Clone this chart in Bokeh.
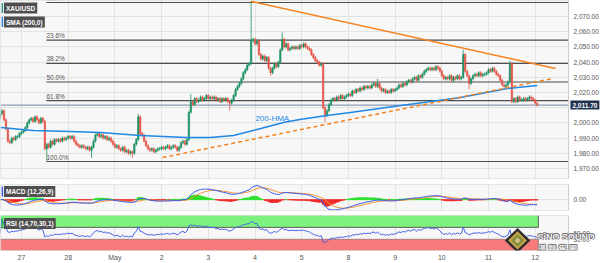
import numpy as np
import pandas as pd
from bokeh.plotting import figure
from bokeh.layouts import column
from bokeh.models import Range1d, FixedTicker, Label, ColumnDataSource
from bokeh.embed import file_html
from bokeh.resources import INLINE
from bokeh.core.properties import value

FONT = "Liberation Sans"

# ---------------- data (hourly XAU/USD, hour 0 = 27 Apr 00:00, trading hours only) -------------
start_hour = -11
first_open = 2003.0
closes = [
    2006, 2008, 2002, 1996, 1988, 1987, 1990, 1989, 1991, 1991, 1993,
    1994, 1995, 1997, 2000, 2002, 2003, 2001, 2004, 2002, 2000, 2003, 2001,
    1983, 1986, 1984, 1988, 1986, 1989, 1988, 1989, 1988, 1990, 1989, 1990,
    1991, 1990, 1991, 1988, 1986, 1985, 1984, 1985, 1984, 1983, 1984, 1982,
    1984, 1988, 1992, 1993, 1991, 1992, 1990, 1991, 1989, 1990, 1988, 1986,
    1984, 1985, 1983, 1982, 1984, 1981, 1982, 1980, 1981, 1980, 1986, 1989,
    2004, 1993, 1992, 1988, 1985, 1983, 1982, 1983, 1981, 1982, 1983, 1983,
    1984, 1983, 1984, 1985, 1983, 1984, 1985, 1984, 1982, 1984, 1987, 1988,
    1986, 1989, 2007, 2014, 2012, 2016, 2014, 2015, 2017, 2015, 2016, 2018,
    2016, 2017, 2016, 2017, 2015, 2016, 2014, 2016, 2015, 2016, 2014, 2013,
    2015, 2018, 2022, 2024, 2026, 2029, 2033, 2035, 2038, 2039, 2054, 2055,
    2052, 2054, 2045, 2042, 2044, 2041, 2043, 2036, 2033, 2036, 2039, 2037,
    2040, 2048, 2055, 2050, 2052, 2048, 2049, 2050, 2049, 2050, 2049, 2051,
    2050, 2052, 2050, 2049, 2048, 2045, 2043, 2041, 2040, 2038, 2039, 2010,
    2005, 2008, 2012, 2015, 2016, 2015, 2017, 2016, 2018, 2016, 2017, 2018,
    2019, 2018, 2021, 2020, 2022, 2021, 2023, 2022, 2024, 2023, 2024, 2023,
    2025, 2026, 2024, 2026, 2023, 2021, 2022, 2020, 2021, 2020, 2022, 2021,
    2022, 2023, 2025, 2024, 2026, 2025, 2027, 2028, 2027, 2029, 2030, 2028,
    2031, 2030, 2032, 2034, 2035, 2036, 2035, 2036, 2035, 2037, 2036, 2034,
    2031, 2029, 2030, 2029, 2031, 2028, 2030, 2029, 2031, 2029, 2030, 2045,
    2034, 2031, 2026, 2029, 2031, 2032, 2031, 2033, 2031, 2032, 2032, 2033,
    2035, 2034, 2036, 2034, 2032, 2031, 2028, 2025, 2024, 2025, 2027, 2039,
    2014, 2016, 2014, 2017, 2015, 2015, 2016, 2015, 2016, 2017, 2016, 2015,
    2013, 2011.7,
]
high_spike_hours = [-11, 60, 87, 118, 134, 183, 227, 251]
high_spike_values = [2010, 2006, 2019, 2079.5, 2059.5, 2029, 2048, 2041]
low_spike_hours = [13, 36, 57, 107, 128, 156, 230]
low_spike_values = [1975, 1977, 1977, 2008, 2031, 2000.5, 2022]

hma_hours = [-10.8, 6, 25, 40.6, 61, 85, 97, 109, 123, 134.6, 143, 157, 169, 195, 225.6, 249.7, 265]
hma_values = [1997.0, 1995.0, 1994.3, 1993.7, 1991.7, 1990.4, 1990.4, 1991.7, 1996.3, 2000.3,
              2002.2, 2004.9, 2006.8, 2011.4, 2016.7, 2022.6, 2024.6]

trend_down_hours = [117.7, 274.4]
trend_down_prices = [2080.0, 2035.8]
trend_up_hours = [72.5, 272.9]
trend_up_prices = [1977.2, 2029.2]

fib_labels = ["0.0%", "23.6%", "38.2%", "50.0%", "61.8%", "100.0%"]
fib_levels = [2079.2, 2054.5, 2039.2, 2026.9, 2014.6, 1974.6]
fib_start_hour = 12.8

last_price = 2011.70
price_grid = [1970, 1980, 1990, 2000, 2010, 2020, 2030, 2040, 2050, 2060, 2070]
price_ticks = [1970, 1980, 1990, 2000, 2020, 2030, 2040, 2050, 2060, 2070]
macd_ticks = [0]
rsi_ticks = [30, 50]
day_ticks = [0, 24, 48, 72, 96, 120, 144, 168, 192, 216, 240, 264]
day_labels = ["27", "28", "May", "2", "3", "4", "5", "8", "9", "10", "11", "12"]

# ---------------- derived ----------------
hours = list(range(start_hour, start_hour + len(closes)))
opens = [first_open] + closes[:-1]
hi_over = dict(zip(high_spike_hours, high_spike_values))
lo_over = dict(zip(low_spike_hours, low_spike_values))
highs, lows, tops, bots, cols = [], [], [], [], []
UP, DN = "#1f9264", "#e4564b"
for h, o, c in zip(hours, opens, closes):
    t, b = max(o, c), min(o, c)
    if t - b < 0.4:
        t, b = t + 0.2, b - 0.2
    tops.append(t); bots.append(b)
    highs.append(max(hi_over.get(h, t + 1.0), t))
    lows.append(min(lo_over.get(h, b - 1.0), b))
    cols.append(UP if c >= o else DN)
src = ColumnDataSource(dict(x=hours, top=tops, bot=bots, hi=highs, lo=lows, col=cols))

s = pd.Series(closes, dtype=float)
ema12 = s.ewm(span=12, adjust=False).mean()
ema26 = s.ewm(span=26, adjust=False).mean()
macd = ema12 - ema26
sig = macd.ewm(span=9, adjust=False).mean()
hist = macd - sig
d = s.diff()
ag = d.clip(lower=0).ewm(alpha=1 / 14, adjust=False).mean()
al = (-d.clip(upper=0)).ewm(alpha=1 / 14, adjust=False).mean()
rsi = (100 - 100 / (1 + ag / al)).fillna(50)

# x scale: 1.946 px per hour; chart frame ends at 568 px, price-axis strip to 604 px
PXH = 1.946
X0 = -10.79
XP = X0 + 568 / PXH      # right edge of chart panel
XE = X0 + 604 / PXH      # right edge of the page
XL = X0 + 573 / PXH      # axis labels start
xr = Range1d(X0, XE)
BG = "#f7f7f7"
GRID = "#e3e3e3"
BORDER = "#cfcfcf"


def make_fig(h, ylo, yhi, bottom_border, x_axis=None):
    f = figure(frame_width=604, frame_height=h, x_range=xr, y_range=Range1d(ylo, yhi),
               y_axis_location=None, x_axis_location=x_axis, toolbar_location=None,
               output_backend="svg", min_border_left=0, min_border_top=0,
               min_border_bottom=bottom_border, min_border_right=0,
               background_fill_color=BG, border_fill_color="white", outline_line_color=None)
    return f


def finish_fig(f, ylo, yhi, grid_ticks, label_ticks, fmt):
    f.ygrid.ticker = FixedTicker(ticks=grid_ticks)
    f.xgrid.ticker = FixedTicker(ticks=day_ticks)
    f.grid.grid_line_color = GRID
    # white strip for the price axis, and the panel frame
    f.quad(left=[XP], right=[XE + 5], bottom=[ylo - 1000], top=[yhi + 1000], fill_color="white",
           line_color=None)
    f.quad(left=[X0], right=[XP], bottom=[ylo], top=[yhi], fill_color=None, line_color=BORDER,
           line_width=1.2)
    f.text(x=[XL] * len(label_ticks), y=label_ticks, text=[fmt.format(t) for t in label_ticks],
           text_color="#555555", text_font=value(FONT), text_font_size="6.5px",
           text_baseline="middle", text_align="left")


def tag(fig, y, text, edge, ppy):
    # ppy: data units per pixel on y
    fig.add_layout(Label(x=X0 + 3.5 / PXH, y=y, text=text, text_color="white", text_font=FONT,
                         text_font_size="6.5px", text_font_style="bold", text_baseline="middle",
                         background_fill_color="#4f4f4f", padding=2))
    fig.quad(left=[X0 + 1.2 / PXH], right=[X0 + 2.6 / PXH], bottom=[y - 5 * ppy],
             top=[y + 5 * ppy], fill_color=edge, line_color=None)


# ---------------- main panel ----------------
PLO, PHI = 1963.42, 2080.53
p = make_fig(178, PLO, PHI, 6)

p.segment(x0=[fib_start_hour] * len(fib_levels), y0=fib_levels, x1=[XP] * len(fib_levels),
          y1=fib_levels, line_color="#4d4d4d", line_width=1.2)
p.text(x=[fib_start_hour] * len(fib_levels), y=fib_levels, text=fib_labels, text_color="#555555",
       text_font=value(FONT), text_font_size="6.5px", text_baseline="bottom", y_offset=-1)
p.segment(x0=[X0], y0=[last_price], x1=[XP], y1=[last_price], line_color="#6f84a3", line_width=1)

p.segment(x0="x", y0="hi", x1="x", y1="lo", source=src, line_color="col", line_width=0.8)
p.vbar(x="x", width=0.75, top="top", bottom="bot", source=src, fill_color="col", line_color="col",
       line_width=0.5)

p.line(hma_hours, hma_values, line_color="#1e88e5", line_width=1.6)
p.text(x=[120.2], y=[2002.9], text=["200-HMA"], text_color="#1e88e5", text_font=value(FONT),
       text_font_size="8px", text_baseline="middle")
p.line(trend_down_hours, trend_down_prices, line_color="#f5821f", line_width=1.5)
p.line(trend_up_hours, trend_up_prices, line_color="#f5821f", line_width=1.5, line_dash="4 3")

finish_fig(p, PLO, PHI, price_grid, price_ticks, "{:,.2f}")
ppy_main = (PHI - PLO) / 178
tag(p, PHI - 7.5 * ppy_main, "XAU/USD", "#2a8f7a", ppy_main)
tag(p, PHI - 21.5 * ppy_main, "SMA (200,0)", "#2f7fe0", ppy_main)
p.add_layout(Label(x=XP + 1.0, y=last_price, text="2,011.70", text_color="white", text_font=FONT,
                   text_font_size="6.5px", text_font_style="bold", text_baseline="middle",
                   background_fill_color="#1f3350", padding=2))

# ---------------- MACD panel ----------------
mhi = float(max(macd.max(), sig.max())) * 1.07
mlo = min(-mhi * 0.625, float(min(macd.min(), sig.min())) * 1.05)
m = make_fig(26, mlo, mhi, 5)
hcols = ["#27e027" if v >= 0 else "#f02626" for v in hist]
m.vbar(x=hours, width=0.75, top=list(hist), bottom=0, fill_color=hcols, line_color=hcols)
m.line(hours, list(sig), line_color="#f5902c", line_width=1)
m.line(hours, list(macd), line_color="#3a5cf0", line_width=1)
finish_fig(m, mlo, mhi, macd_ticks, macd_ticks, "{:.2f}")
ppy_m = (mhi - mlo) / 26
tag(m, mhi - 7 * ppy_m, "MACD (12,26,9)", "#3a5cf0", ppy_m)

# ---------------- RSI panel ----------------
RLO, RHI = -8, 110
r = make_fig(35, RLO, RHI, 0, x_axis="below")
end_h = hours[-1] + 0.6
r.quad(left=[X0 - 2], right=[end_h], bottom=[70], top=[RHI + 5], fill_color="#7ef27e",
       line_color="#3c3c3c", line_width=0.8)
r.quad(left=[X0 - 2], right=[end_h], bottom=[RLO - 5], top=[30], fill_color="#f77b7b",
       line_color="#3c3c3c", line_width=0.8, line_dash="1 1")
r.line(hours, list(rsi), line_color="#4a63e8", line_width=1)
finish_fig(r, RLO, RHI, [], rsi_ticks, "{:.2f}")
ppy_r = (RHI - RLO) / 35
tag(r, RHI - 8 * ppy_r, "RSI (14,70,30,1)", "#2fbf4f", ppy_r)

xa = r.xaxis[0]
xa.ticker = FixedTicker(ticks=day_ticks)
xa.major_label_overrides = {t: l for t, l in zip(day_ticks, day_labels)}
xa.axis_line_color = None
xa.major_tick_line_color = None
xa.minor_tick_line_color = None
xa.major_tick_out = 0
xa.major_tick_in = 0
xa.minor_tick_out = 0
xa.major_label_text_font_size = "7px"
xa.major_label_text_color = "#555555"
xa.major_label_text_font = FONT
xa.major_label_standoff = 3

# watermark logo
cx, cy = 254.9, 26
r.patch([cx - 6.6, cx, cx + 6.6, cx], [cy, cy + 42, cy, cy - 42], fill_color="#2e2e2e", line_color=None)
r.patch([cx - 4.8, cx, cx + 4.8, cx], [cy, cy + 31, cy, cy - 31], fill_color="#c9a24a", line_color=None)
r.patch([cx - 3.2, cx, cx + 3.2, cx], [cy, cy + 21, cy, cy - 21], fill_color="#7a8f3c", line_color=None)
r.patch([cx - 1.6, cx, cx + 1.6, cx], [cy, cy + 10, cy, cy - 10], fill_color="#d8c080", line_color=None)
wx = X0 + 537 / PXH
shadow = [(-0.8, -0.8, "#6e6e6e"), (0.8, -0.8, "#6e6e6e"), (-0.8, 0.8, "#6e6e6e"),
          (0.8, 0.8, "#6e6e6e"), (0, 0, "white")]
for ox, oy, colr in shadow:
    r.add_layout(Label(x=wx, y=RHI - 21 * ppy_r, text="SiNO SOUND", text_color=colr, text_font=FONT,
                       text_font_size="9px", text_font_style="bold", text_baseline="middle",
                       x_offset=ox, y_offset=oy, text_alpha=0.9))
    r.add_layout(Label(x=wx, y=RHI - 32 * ppy_r, text="漢  聲  集  團", text_color=colr,
                       text_font="Noto Sans CJK TC", text_font_size="8.5px", text_font_style="bold",
                       text_baseline="middle", x_offset=ox, y_offset=oy, text_alpha=0.9))

layout = column(p, m, r)
open("out.html", "w").write(file_html(layout, INLINE))
